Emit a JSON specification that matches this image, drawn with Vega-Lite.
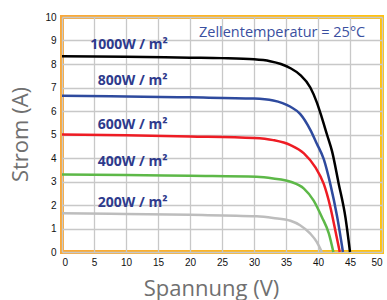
{
  "$schema": "https://vega.github.io/schema/vega-lite/v6.json",
  "width": 320,
  "height": 235,
  "autosize": "none",
  "padding": {"left": 62, "top": 17, "right": 5, "bottom": 48},
  "background": "white",
  "config": {
    "view": {"stroke": {"gradient": "linear", "x1": 0, "y1": 0, "x2": 1, "y2": 0, "stops": [{"offset": 0, "color": "#F8A83A"}, {"offset": 1, "color": "#FFC20E"}]}, "strokeWidth": 4},
    "axis": {"labelFont": "Liberation Sans", "labelFontSize": 10, "labelColor": "#111", "titleFont": "Open Sans", "titleFontSize": 22, "titleFontWeight": "normal", "titleColor": "#707070", "gridColor": "#C8C8C8", "gridWidth": 1.3, "domain": false, "ticks": false}
  },
  "datasets": {
    "curves": [
      {"s": "1000", "V": 0, "I": 8.33}, {"s": "1000", "V": 10, "I": 8.31}, {"s": "1000", "V": 20, "I": 8.27}, {"s": "1000", "V": 25, "I": 8.25}, {"s": "1000", "V": 30, "I": 8.2}, {"s": "1000", "V": 32.5, "I": 8.12}, {"s": "1000", "V": 34.2, "I": 8.0}, {"s": "1000", "V": 35.7, "I": 7.82}, {"s": "1000", "V": 37.2, "I": 7.54}, {"s": "1000", "V": 38.8, "I": 7.0}, {"s": "1000", "V": 39.8, "I": 6.38}, {"s": "1000", "V": 40.6, "I": 5.72}, {"s": "1000", "V": 41.4, "I": 5.0}, {"s": "1000", "V": 42.2, "I": 4.28}, {"s": "1000", "V": 43.2, "I": 2.95}, {"s": "1000", "V": 44.3, "I": 1.45}, {"s": "1000", "V": 45, "I": 0},
      {"s": "800", "V": 0, "I": 6.65}, {"s": "800", "V": 10, "I": 6.62}, {"s": "800", "V": 20, "I": 6.58}, {"s": "800", "V": 30, "I": 6.53}, {"s": "800", "V": 33, "I": 6.45}, {"s": "800", "V": 35.7, "I": 6.18}, {"s": "800", "V": 37.2, "I": 5.88}, {"s": "800", "V": 38.8, "I": 5.2}, {"s": "800", "V": 39.8, "I": 4.62}, {"s": "800", "V": 40.9, "I": 3.95}, {"s": "800", "V": 41.9, "I": 2.92}, {"s": "800", "V": 43, "I": 1.49}, {"s": "800", "V": 43.9, "I": 0},
      {"s": "600", "V": 0, "I": 5.0}, {"s": "600", "V": 10, "I": 4.97}, {"s": "600", "V": 20, "I": 4.92}, {"s": "600", "V": 30, "I": 4.85}, {"s": "600", "V": 33, "I": 4.76}, {"s": "600", "V": 35.7, "I": 4.55}, {"s": "600", "V": 37.8, "I": 4.2}, {"s": "600", "V": 39.6, "I": 3.6}, {"s": "600", "V": 40.9, "I": 2.9}, {"s": "600", "V": 41.9, "I": 1.95}, {"s": "600", "V": 42.7, "I": 0.93}, {"s": "600", "V": 43.4, "I": 0},
      {"s": "400", "V": 0, "I": 3.3}, {"s": "400", "V": 10, "I": 3.28}, {"s": "400", "V": 20, "I": 3.24}, {"s": "400", "V": 30.4, "I": 3.2}, {"s": "400", "V": 33, "I": 3.13}, {"s": "400", "V": 35.7, "I": 2.99}, {"s": "400", "V": 37.8, "I": 2.7}, {"s": "400", "V": 39.3, "I": 2.2}, {"s": "400", "V": 40.6, "I": 1.49}, {"s": "400", "V": 41.7, "I": 0.78}, {"s": "400", "V": 42.4, "I": 0},
      {"s": "200", "V": 0, "I": 1.65}, {"s": "200", "V": 10, "I": 1.62}, {"s": "200", "V": 20, "I": 1.58}, {"s": "200", "V": 30.4, "I": 1.52}, {"s": "200", "V": 33, "I": 1.45}, {"s": "200", "V": 35.7, "I": 1.33}, {"s": "200", "V": 37.2, "I": 1.14}, {"s": "200", "V": 38.8, "I": 0.78}, {"s": "200", "V": 39.8, "I": 0.43}, {"s": "200", "V": 40.6, "I": 0}
    ],
    "labels": [
      {"label": "1000W / m²", "V": 4.4, "I": 8.81},
      {"label": "800W / m²", "V": 5.6, "I": 7.28},
      {"label": "600W / m²", "V": 5.6, "I": 5.4},
      {"label": "400W / m²", "V": 5.6, "I": 3.84},
      {"label": "200W / m²", "V": 5.6, "I": 2.1}
    ],
    "note": [{"label": "Zellentemperatur = 25°C", "V": 21.4, "I": 9.31}]
  },
  "encoding": {
    "x": {"field": "V", "type": "quantitative", "scale": {"domain": [0, 50], "nice": false}, "axis": {"title": "Spannung (V)", "values": [0, 5, 10, 15, 20, 25, 30, 35, 40, 45, 50], "labelPadding": 5, "titlePadding": 11, "titleX": 149, "titleAlign": "center"}},
    "y": {"field": "I", "type": "quantitative", "scale": {"domain": [0, 10], "nice": false}, "axis": {"title": "Strom (A)", "values": [0, 1, 2, 3, 4, 5, 6, 7, 8, 9, 10], "labelPadding": 6, "titleX": -42, "titleY": 117, "titleAlign": "center", "titleBaseline": "middle"}}
  },
  "layer": [
    {
      "data": {"name": "curves"},
      "mark": {"type": "line", "interpolate": "monotone", "strokeWidth": 2.5},
      "encoding": {
        "color": {"field": "s", "type": "nominal", "scale": {"domain": ["1000", "800", "600", "400", "200"], "range": ["#000000", "#2E4A9E", "#EE1C24", "#5DB848", "#BDBDBD"]}, "legend": null}
      }
    },
    {
      "data": {"name": "labels"},
      "mark": {"type": "text", "align": "left", "baseline": "middle", "font": "Open Sans", "fontSize": 14, "fontWeight": "bold", "color": "#2E3A8C"},
      "encoding": {
        "text": {"field": "label"}
      }
    },
    {
      "data": {"name": "note"},
      "mark": {"type": "text", "align": "left", "baseline": "middle", "font": "Open Sans", "fontSize": 14.5, "color": "#3A4FA0"},
      "encoding": {
        "text": {"field": "label"}
      }
    }
  ]
}
